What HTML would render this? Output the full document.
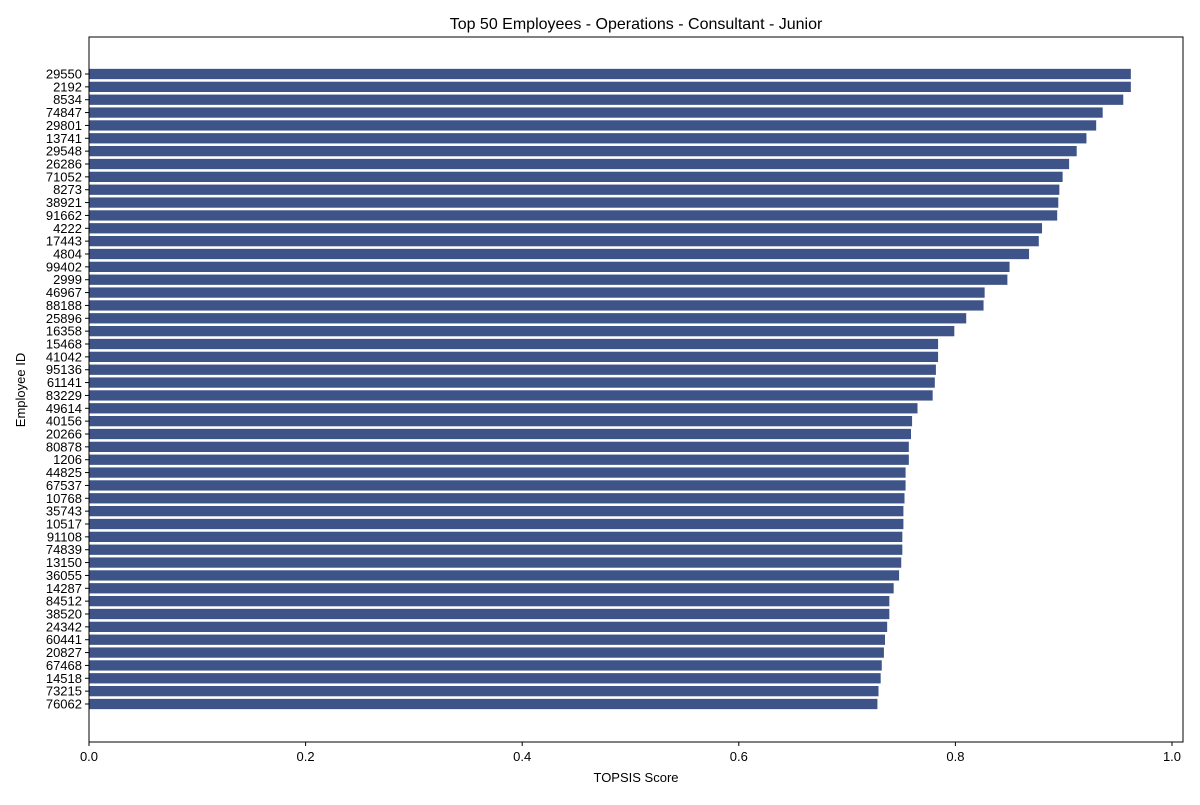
<!DOCTYPE html>
<html><head><meta charset="utf-8"><style>
body{margin:0;background:#fff;font-family:"Liberation Sans","DejaVu Sans",sans-serif;}
</style></head><body>
<svg id="chart" width="1200" height="800" xmlns="http://www.w3.org/2000/svg">
<rect width="1200" height="800" fill="#fff"/>
<text x="636" y="29" font-size="16" text-anchor="middle">Top 50 Employees - Operations - Consultant - Junior</text>
<g id="bars"></g>
<g id="xticks"></g>
<g id="yticks"></g>
<rect x="89" y="37" width="1094" height="705" fill="none" stroke="#000" stroke-width="1"/>
<text x="636" y="782" font-size="13" text-anchor="middle">TOPSIS Score</text>
<text x="25" y="390" font-size="13" text-anchor="middle" transform="rotate(-90 25 390)">Employee ID</text>
</svg>
<script>
const employees=["29550","2192","8534","74847","29801","13741","29548","26286","71052","8273","38921","91662","4222","17443","4804","99402","2999","46967","88188","25896","16358","15468","41042","95136","61141","83229","49614","40156","20266","80878","1206","44825","67537","10768","35743","10517","91108","74839","13150","36055","14287","84512","38520","24342","60441","20827","67468","14518","73215","76062"];
const scores=[0.962,0.962,0.955,0.936,0.930,0.921,0.912,0.905,0.899,0.896,0.895,0.894,0.880,0.877,0.868,0.850,0.848,0.827,0.826,0.810,0.799,0.784,0.784,0.782,0.781,0.779,0.765,0.760,0.759,0.757,0.757,0.754,0.754,0.753,0.752,0.752,0.751,0.751,0.750,0.748,0.743,0.739,0.739,0.737,0.735,0.734,0.732,0.731,0.729,0.728];
const xTicks=[0,0.2,0.4,0.6,0.8,1.0];
const xTickLabels=["0.0","0.2","0.4","0.6","0.8","1.0"];
const NS="http://www.w3.org/2000/svg";
const x0=89,xScale=1083,plotTop=37,plotBottom=742;
const n=employees.length;
function xPos(v){return x0+v*xScale;}
function mk(tag,attrs,parent){const e=document.createElementNS(NS,tag);for(const k in attrs)e.setAttribute(k,attrs[k]);parent.appendChild(e);return e;}
const bars=document.getElementById('bars'),yt=document.getElementById('yticks'),xt=document.getElementById('xticks');
const c0=74,c1=704,sp=(c1-c0)/(n-1),bh=sp*0.8;
employees.forEach((id,i)=>{
 const cy=c0+i*sp;
 const r=mk('rect',{x:x0,y:cy-bh/2,width:xPos(scores[i])-x0,height:bh,fill:'#3e5488'},bars);
 
 
 const t=mk('line',{x1:x0-4,x2:x0,y1:cy,y2:cy,stroke:'#000'},yt);
 
 
 const l=mk('text',{x:x0-7,y:cy+4.5,'font-size':13,'text-anchor':'end'},yt);
 l.textContent=id;
 
 
});
xTicks.forEach((v,i)=>{
 const x=xPos(v);
 const t=mk('line',{x1:x,x2:x,y1:742,y2:746,stroke:'#000'},xt);
 
 
 const l=mk('text',{x:x,y:761,'font-size':13,'text-anchor':'middle'},xt);
 l.textContent=xTickLabels[i];
 
 
});
</script>
</body></html>
